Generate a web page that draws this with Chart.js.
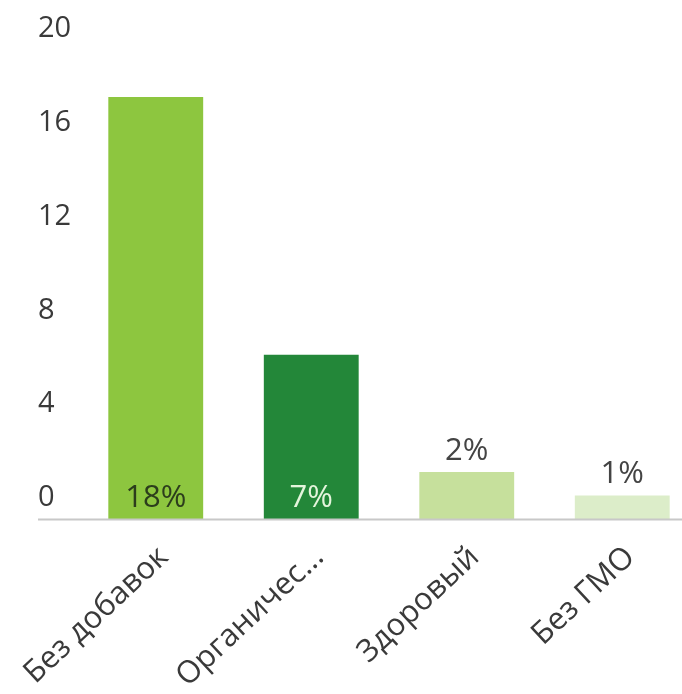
<html>
    <head>
        <script src="https://cdn.jsdelivr.net/npm/chart.js@4.4.0/dist/chart.umd.min.js"></script>
        <style>
            body {
                margin: 0px;
                overflow: hidden;
                background: #ffffff;
            }

            #wrap {
                width: 702px;
                height: 694px;
            }
        </style>
    </head>

    <body>
        <div id="wrap">
            <canvas id="chart"></canvas>
        </div>
        <script>
            const categories = ['Без добавок', 'Органичес...', 'Здоровый', 'Без ГМО']
            const values = [18, 7, 2, 1]
            const valueLabels = ['18%', '7%', '2%', '1%']
            const barColors = ['#8dc63f', '#238739', '#c6e09c', '#dcedc9']
            const yTicks = [0, 4, 8, 12, 16, 20]

            const FONT = '"Open Sans", "Noto Sans", sans-serif'

            // big bars get their label inside at the base, small ones above the top
            const insideColors = { 0: '#2c3d1c', 1: '#e4f5dc' }

            const valueLabelPlugin = {
                id: 'valueLabels',
                afterDatasetsDraw(chart) {
                    const ctx = chart.ctx
                    const meta = chart.getDatasetMeta(0)
                    ctx.save()
                    ctx.font = '31px ' + FONT
                    ctx.textAlign = 'center'
                    ctx.textBaseline = 'middle'
                    meta.data.forEach((bar, i) => {
                        if (insideColors[i]) {
                            ctx.fillStyle = insideColors[i]
                            ctx.fillText(valueLabels[i], bar.x, bar.base - 21)
                        } else {
                            ctx.fillStyle = '#444444'
                            ctx.fillText(valueLabels[i], bar.x, bar.y - 21)
                        }
                    })
                    ctx.restore()
                },
            }

            // thin baseline running under the y labels too
            const baselinePlugin = {
                id: 'baseline',
                afterDraw(chart) {
                    const y = chart.scales.y
                    const py = Math.round(y.getPixelForValue(0)) + 0.5
                    const ctx = chart.ctx
                    ctx.save()
                    ctx.strokeStyle = '#c8c8c8'
                    ctx.lineWidth = 2
                    ctx.beginPath()
                    ctx.moveTo(y.left, py)
                    ctx.lineTo(chart.width, py)
                    ctx.stroke()
                    ctx.restore()
                },
            }

            new Chart(document.getElementById('chart'), {
                type: 'bar',
                data: {
                    labels: categories,
                    datasets: [
                        {
                            data: values,
                            backgroundColor: barColors,
                            categoryPercentage: 1,
                            barPercentage: 0.61,
                        },
                    ],
                },
                options: {
                    responsive: true,
                    maintainAspectRatio: false,
                    animation: false,
                    layout: {
                        padding: { left: 38, right: 2, top: 50, bottom: 0 },
                    },
                    plugins: {
                        legend: { display: false },
                        tooltip: { enabled: false },
                    },
                    scales: {
                        x: {
                            grid: { display: false, drawTicks: false },
                            border: { display: false },
                            ticks: {
                                color: '#3a3a3a',
                                font: { family: FONT, size: 31 },
                                minRotation: 43,
                                maxRotation: 43,
                                autoSkip: false,
                                padding: 20,
                                labelOffset: 8,
                            },
                            afterFit(scale) {
                                // rotated labels may overhang the left edge; don't let them shrink the plot
                                scale.height = 175
                                scale.paddingLeft = 0
                                scale.paddingRight = 0
                            },
                        },
                        y: {
                            min: 0,
                            max: 20,
                            afterBuildTicks(scale) {
                                scale.ticks = yTicks.map((v) => ({ value: v }))
                            },
                            afterFit(scale) {
                                scale.width = 40
                            },
                            grid: { display: false, drawTicks: false },
                            border: { display: false },
                            ticks: {
                                color: '#3a3a3a',
                                font: { family: FONT, size: 29 },
                                crossAlign: 'far',
                                padding: 4,
                                labelOffset: -21,
                            },
                        },
                    },
                },
                plugins: [valueLabelPlugin, baselinePlugin],
            })
        </script>
    </body>
</html>
